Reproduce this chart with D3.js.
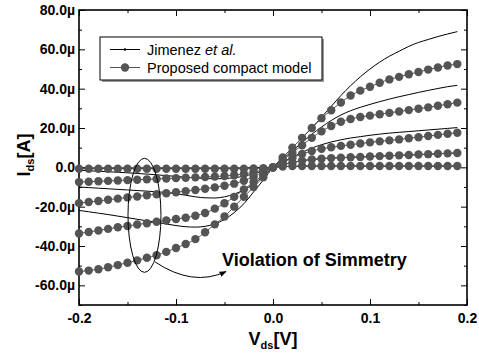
<!DOCTYPE html>
<html>
<head>
<meta charset="utf-8">
<script src="https://cdn.jsdelivr.net/npm/d3@7"></script>
<style>
  body { margin: 0; background: #fff; }
  svg { font-family: "Liberation Sans", Arial, sans-serif; }
  .tick text { font-weight: bold; font-size: 14px; fill: #000; }
  .tick line { stroke: #000; stroke-width: 1; }
</style>
</head>
<body>
<svg id="chart" width="479" height="354"></svg>
<script>
// Vds sweep (V)
var vds = [-0.20,-0.19,-0.18,-0.17,-0.16,-0.15,-0.14,-0.13,-0.12,-0.11,
           -0.10,-0.09,-0.08,-0.07,-0.06,-0.05,-0.04,-0.03,-0.02,-0.01,
            0.00, 0.01, 0.02, 0.03, 0.04, 0.05, 0.06, 0.07, 0.08, 0.09,
            0.10, 0.11, 0.12, 0.13, 0.14, 0.15, 0.16, 0.17, 0.18, 0.19];

// Proposed compact model, Ids in uA
var propA = [-53.0,-52.5,-51.8,-50.8,-49.7,-48.5,-47.3,-46.0,-44.7,-43.0,
             -41.0,-39.0,-36.5,-33.0,-29.0,-25.0,-20.0,-15.0,-10.0,-5.0,
             0,5,10,15,20,25,29,33,36.5,39,41,43,44.7,46,47.3,48.5,49.7,50.8,51.8,52.5];
var propB = [-33.6,-32.9,-32.1,-31.3,-30.5,-29.8,-29.1,-28.4,-27.7,-27.0,
             -26.3,-25.6,-24.6,-23.2,-21.0,-18.3,-15.0,-11.2,-7.5,-3.8,
             0,3.8,7.5,11.2,15,18.3,21,23.2,24.6,25.6,26.3,27,27.7,28.4,29.1,29.8,30.5,31.3,32.1,32.9];
var propC = [-18.2,-17.6,-17.1,-16.5,-15.9,-15.3,-14.8,-14.2,-13.7,-13.2,
             -12.7,-12.1,-11.5,-10.9,-10.2,-9.4,-8.3,-6.8,-4.8,-2.4,
             0,2.4,4.8,6.8,8.3,9.4,10.2,10.9,11.5,12.1,12.7,13.2,13.7,14.2,14.8,15.3,15.9,16.5,17.1,17.6];
var propD = [-7.5,-7.3,-7.1,-6.9,-6.7,-6.5,-6.3,-6.1,-5.9,-5.7,
             -5.5,-5.3,-5.1,-4.9,-4.7,-4.4,-4.0,-3.4,-2.5,-1.3,
             0,1.3,2.5,3.4,4.0,4.4,4.7,4.9,5.1,5.3,5.5,5.7,5.9,6.1,6.3,6.5,6.7,6.9,7.1,7.3];
var propE = [-0.7,-0.7,-0.7,-0.7,-0.7,-0.7,-0.7,-0.7,-0.7,-0.7,
             -0.7,-0.7,-0.7,-0.7,-0.7,-0.7,-0.7,-0.7,-0.6,-0.4,
             0,0.4,0.6,0.7,0.7,0.7,0.7,0.7,0.7,0.7,0.7,0.7,0.7,0.7,0.7,0.7,0.7,0.7,0.7,0.7];

// Jimenez et al., Ids in uA
var jim1 = [-21.9,-22.6,-23.3,-24.0,-24.8,-25.6,-26.4,-27.2,-28.0,-28.8,
            -29.6,-30.2,-30.4,-30.0,-28.8,-26.5,-23.0,-18.5,-12.5,-6.5,
            0,5,10,15,20,25.5,31,36.5,41.5,46,50,53.5,56.5,59,61.5,63.5,65,66.5,67.8,69];
var jim2 = [-10.0,-10.3,-10.6,-10.9,-11.2,-11.5,-11.8,-12.1,-12.4,-12.8,
            -13.4,-14.2,-15.0,-15.5,-15.6,-15.0,-13.6,-11.5,-8.5,-4.5,
            0,4.2,8.4,12.6,16.8,20.5,23.8,26.6,28.8,30.5,32,33.4,34.7,35.9,37,38.1,39.1,40.1,41,41.7];
var jim3 = [-1.5,-1.75,-2.0,-2.25,-2.5,-2.8,-3.1,-3.45,-3.8,-4.2,
            -4.6,-5.0,-5.4,-5.7,-5.8,-5.7,-5.3,-4.5,-3.3,-1.8,
            0,2.6,5.2,7.6,9.8,11.5,12.9,14,14.9,15.6,16.3,16.9,17.4,17.8,18.2,18.6,19,19.4,19.8,20.2];
var jim4 = [-0.6,-0.6,-0.6,-0.6,-0.6,-0.6,-0.6,-0.6,-0.6,-0.6,
            -0.6,-0.6,-0.6,-0.6,-0.6,-0.6,-0.6,-0.5,-0.4,-0.2,
            0,1.3,2.5,3.4,4.0,4.4,4.7,4.9,5.1,5.3,5.5,5.7,5.9,6.1,6.3,6.5,6.7,6.9,7.1,7.3];
var jim5 = [-0.3,-0.3,-0.3,-0.3,-0.3,-0.3,-0.3,-0.3,-0.3,-0.3,
            -0.3,-0.3,-0.3,-0.3,-0.3,-0.3,-0.3,-0.3,-0.2,-0.1,
            0,0.3,0.5,0.6,0.6,0.6,0.6,0.6,0.6,0.6,0.6,0.6,0.6,0.6,0.6,0.6,0.6,0.6,0.6,0.6];

var proposed = [propA, propB, propC, propD, propE];
var jimenez = [jim1, jim2, jim3, jim4, jim5];

// axis ticks
var xTicks = [-0.2, -0.1, 0.0, 0.1, 0.2];
var xTickLabels = ["-0.2", "-0.1", "0.0", "0.1", "0.2"];
var xMinor = [-0.15, -0.05, 0.05, 0.15];
var yTicks = [-60, -40, -20, 0, 20, 40, 60, 80];
var yTickLabels = ["-60.0\u00b5", "-40.0\u00b5", "-20.0\u00b5", "0.0", "20.0\u00b5", "40.0\u00b5", "60.0\u00b5", "80.0\u00b5"];
var yMinor = [-70, -50, -30, -10, 10, 30, 50, 70];

var legendLabels = ["Jimenez ", "Proposed compact model"];
var noteText = "Violation of Simmetry";

var dotColor = "#545454";

var svg = d3.select("#chart");
var pLeft = 79, pRight = 467, pTop = 10, pBottom = 305;

var x = d3.scaleLinear().domain([-0.2, 0.2]).range([pLeft, pRight]);
var y = d3.scaleLinear().domain([-70, 80]).range([pBottom, pTop]);

// axes, ticks pointing inward
function fmtX(d) { return xTickLabels[xTicks.indexOf(d)]; }
function fmtY(d) { return yTickLabels[yTicks.indexOf(d)]; }

svg.append("g").attr("transform", "translate(0," + pBottom + ")")
   .call(d3.axisBottom(x).tickValues(xTicks).tickSize(-6).tickPadding(8).tickFormat(fmtX));
svg.append("g").attr("transform", "translate(0," + pBottom + ")")
   .call(d3.axisBottom(x).tickValues(xMinor).tickSize(-3).tickFormat(""));
svg.append("g").attr("transform", "translate(0," + pTop + ")")
   .call(d3.axisTop(x).tickValues(xTicks).tickSize(-6).tickFormat(""));
svg.append("g").attr("transform", "translate(0," + pTop + ")")
   .call(d3.axisTop(x).tickValues(xMinor).tickSize(-3).tickFormat(""));
svg.append("g").attr("transform", "translate(" + pLeft + ",0)")
   .call(d3.axisLeft(y).tickValues(yTicks).tickSize(-6).tickPadding(4).tickFormat(fmtY));
svg.append("g").attr("transform", "translate(" + pLeft + ",0)")
   .call(d3.axisLeft(y).tickValues(yMinor).tickSize(-3).tickFormat(""));
svg.append("g").attr("transform", "translate(" + pRight + ",0)")
   .call(d3.axisRight(y).tickValues(yTicks).tickSize(-6).tickFormat(""));
svg.append("g").attr("transform", "translate(" + pRight + ",0)")
   .call(d3.axisRight(y).tickValues(yMinor).tickSize(-3).tickFormat(""));
svg.selectAll(".domain").remove();

svg.append("rect")
   .attr("x", pLeft).attr("y", pTop)
   .attr("width", pRight - pLeft).attr("height", pBottom - pTop)
   .style("fill", "none").style("stroke", "#000").style("stroke-width", 1.6);

// curves
var line = d3.line()
   .x(function(d, i) { return x(vds[i]); })
   .y(function(d) { return y(d); })
   .curve(d3.curveMonotoneX);

svg.selectAll("jimLines")
   .data(jimenez)
   .enter()
   .append("path")
   .attr("d", line)
   .style("fill", "none")
   .style("stroke", "#000")
   .style("stroke-width", 1);

svg.selectAll("propLines")
   .data(proposed)
   .enter()
   .append("path")
   .attr("d", line)
   .style("fill", "none")
   .style("stroke", dotColor)
   .style("stroke-width", 1);

proposed.forEach(function(series) {
  svg.append("g").selectAll("circle")
     .data(series)
     .enter()
     .append("circle")
     .attr("cx", function(d, i) { return x(vds[i]); })
     .attr("cy", function(d) { return y(d); })
     .attr("r", 4.2)
     .style("fill", dotColor);
});

// legend
var lg = svg.append("g");
lg.append("rect").attr("x", 102).attr("y", 39).attr("width", 222).attr("height", 43)
  .style("fill", "#999");
lg.append("rect").attr("x", 100).attr("y", 37).attr("width", 222).attr("height", 43)
  .style("fill", "#fff").style("stroke", "#000").style("stroke-width", 1);
lg.append("line").attr("x1", 110).attr("x2", 140).attr("y1", 49.5).attr("y2", 49.5)
  .style("stroke", "#000").style("stroke-width", 1);
lg.append("circle").attr("cx", 125).attr("cy", 49.5).attr("r", 1.3).style("fill", "#000");
lg.append("line").attr("x1", 110).attr("x2", 140).attr("y1", 67.5).attr("y2", 67.5)
  .style("stroke", dotColor).style("stroke-width", 1);
lg.append("circle").attr("cx", 125).attr("cy", 67.5).attr("r", 4.2).style("fill", dotColor);
var t1 = lg.append("text").attr("x", 147).attr("y", 54.5)
  .style("font-size", "14.5px");
t1.append("tspan").text(legendLabels[0]);
t1.append("tspan").style("font-style", "italic").text("et al.");
lg.append("text").attr("x", 147).attr("y", 72.5)
  .style("font-size", "14.5px").text(legendLabels[1]);

// annotation: ellipse + arrow + note
svg.append("ellipse")
   .attr("cx", x(-0.1325)).attr("cy", y(-24.4))
   .attr("rx", x(-0.1155) - x(-0.1325)).attr("ry", y(-24.4) - y(4.6))
   .style("fill", "none").style("stroke", "#000").style("stroke-width", 1);

svg.append("defs").append("marker")
   .attr("id", "arrow").attr("viewBox", "0 0 10 10")
   .attr("refX", 9).attr("refY", 5)
   .attr("markerWidth", 7).attr("markerHeight", 7)
   .attr("orient", "auto")
   .append("path").attr("d", "M0,1 L10,5 L0,9 z").style("fill", "#000");

var p = d3.path();
p.moveTo(x(-0.1216), y(-48.1));
p.quadraticCurveTo(x(-0.0825), y(-60.9), x(-0.0485), y(-53.0));
svg.append("path").attr("d", p.toString())
   .style("fill", "none").style("stroke", "#000").style("stroke-width", 1)
   .attr("marker-end", "url(#arrow)");

svg.append("text")
   .attr("x", x(-0.0526)).attr("y", y(-50.2))
   .style("font-size", "18px").style("font-weight", "bold")
   .text(noteText);

// axis titles
var xt = svg.append("text").attr("x", 273).attr("y", 345)
   .style("text-anchor", "middle").style("font-weight", "bold").style("font-size", "18px");
xt.append("tspan").text("V");
xt.append("tspan").attr("dy", 4).style("font-size", "11px").text("ds");
xt.append("tspan").attr("dy", -4).text("[V]");

var yt = svg.append("text")
   .attr("transform", "translate(30,155) rotate(-90)")
   .style("text-anchor", "middle").style("font-weight", "bold").style("font-size", "18px");
yt.append("tspan").text("I");
yt.append("tspan").attr("dy", 4).style("font-size", "11px").text("ds");
yt.append("tspan").attr("dy", -4).text("[A]");
</script>
</body>
</html>
